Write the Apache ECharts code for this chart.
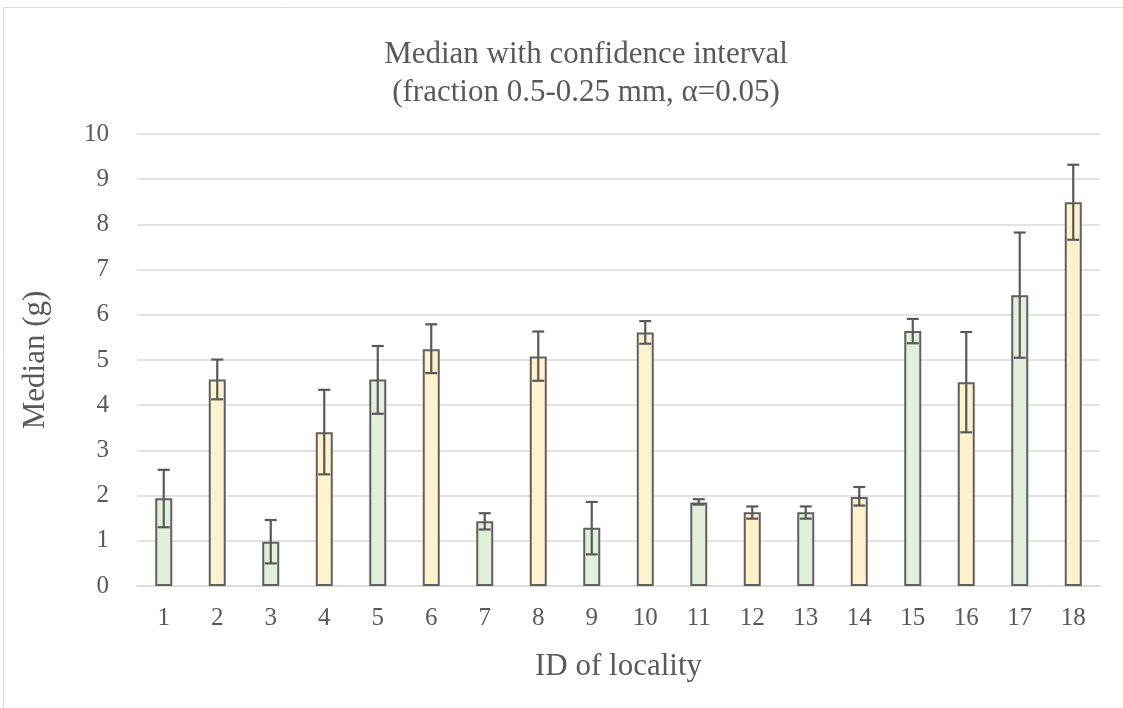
<!DOCTYPE html>
<html>
<head>
<meta charset="utf-8">
<script src="https://cdn.jsdelivr.net/npm/echarts@6/dist/echarts.min.js"></script>
<style>
html,body{margin:0;padding:0;background:#fff;}
#chart{width:1123px;height:708px;}
</style>
</head>
<body>
<div id="chart"></div>
<script>
const categories = ['1','2','3','4','5','6','7','8','9','10','11','12','13','14','15','16','17','18'];
const medians = [1.94, 4.57, 0.98, 3.40, 4.57, 5.24, 1.43, 5.08, 1.29, 5.61, 1.85, 1.63, 1.63, 1.97, 5.64, 4.51, 6.43, 8.49];
const ciLower = [1.30, 4.13, 0.50, 2.47, 3.81, 4.71, 1.25, 4.54, 0.70, 5.36, 1.80, 1.49, 1.49, 1.78, 5.37, 3.40, 5.05, 7.66];
const ciUpper = [2.57, 5.01, 1.46, 4.34, 5.31, 5.79, 1.61, 5.63, 1.86, 5.86, 1.92, 1.76, 1.76, 2.19, 5.91, 5.62, 7.82, 9.32];
const yTicks = [0,1,2,3,4,5,6,7,8,9,10];

const green = '#E2EFDA', yellow = '#FFF2CC';
const font = "'Liberation Serif','Times New Roman',serif";
const textColor = '#595959';

const chart = echarts.init(document.getElementById('chart'));
const barData = medians.map((v, i) => ({
  value: v,
  itemStyle: { color: i % 2 === 0 ? green : yellow }
}));
const errData = categories.map((c, i) => [i, ciLower[i], ciUpper[i]]);

chart.setOption({
  animation: false,
  backgroundColor: '#fff',
  graphic: [{
    type: 'rect', shape: { x: 3.5, y: 7.5, width: 1200, height: 800 },
    style: { fill: 'none', stroke: '#d9d9d9', lineWidth: 1 }, silent: true, z: -10
  }],
  title: {
    text: 'Median with confidence interval\n(fraction 0.5-0.25 mm, \u03b1=0.05)',
    left: 581, textAlign: 'center', top: 31,
    textStyle: { fontFamily: font, fontSize: 31, fontWeight: 'normal', color: textColor, lineHeight: 38 }
  },
  grid: { left: 137, right: 23, top: 134, bottom: 122 },
  xAxis: {
    type: 'category', data: categories,
    name: 'ID of locality', nameLocation: 'middle', nameGap: 65,
    nameTextStyle: { fontFamily: font, fontSize: 31, color: textColor },
    axisLine: { lineStyle: { color: '#d9d9d9', width: 1.5 } },
    axisTick: { show: false },
    axisLabel: { fontFamily: font, fontSize: 25, color: textColor, margin: 20 }
  },
  yAxis: {
    type: 'value', min: yTicks[0], max: yTicks[yTicks.length - 1], interval: 1,
    name: 'Median (g)', nameLocation: 'middle', nameGap: 86, nameRotate: 90,
    nameTextStyle: { fontFamily: font, fontSize: 31, color: textColor },
    axisLine: { show: false }, axisTick: { show: false },
    axisLabel: { fontFamily: font, fontSize: 25, color: textColor, margin: 28 },
    splitLine: { lineStyle: { color: '#d9d9d9', width: 1.5 } }
  },
  series: [{
    type: 'bar', data: barData, barWidth: 17,
    itemStyle: { borderColor: '#606060', borderWidth: 2 }
  }, {
    type: 'custom', data: errData, z: 10,
    renderItem: function (params, api) {
      const x = api.value(0);
      const lo = api.coord([x, api.value(1)]);
      const hi = api.coord([x, api.value(2)]);
      const hw = 6;
      const st = { stroke: '#595959', lineWidth: 2.2 };
      return { type: 'group', children: [
        { type: 'line', shape: { x1: lo[0], y1: lo[1], x2: hi[0], y2: hi[1] }, style: st },
        { type: 'line', shape: { x1: lo[0] - hw, y1: lo[1], x2: lo[0] + hw, y2: lo[1] }, style: st },
        { type: 'line', shape: { x1: hi[0] - hw, y1: hi[1], x2: hi[0] + hw, y2: hi[1] }, style: st }
      ]};
    }
  }]
});
</script>
</body>
</html>
